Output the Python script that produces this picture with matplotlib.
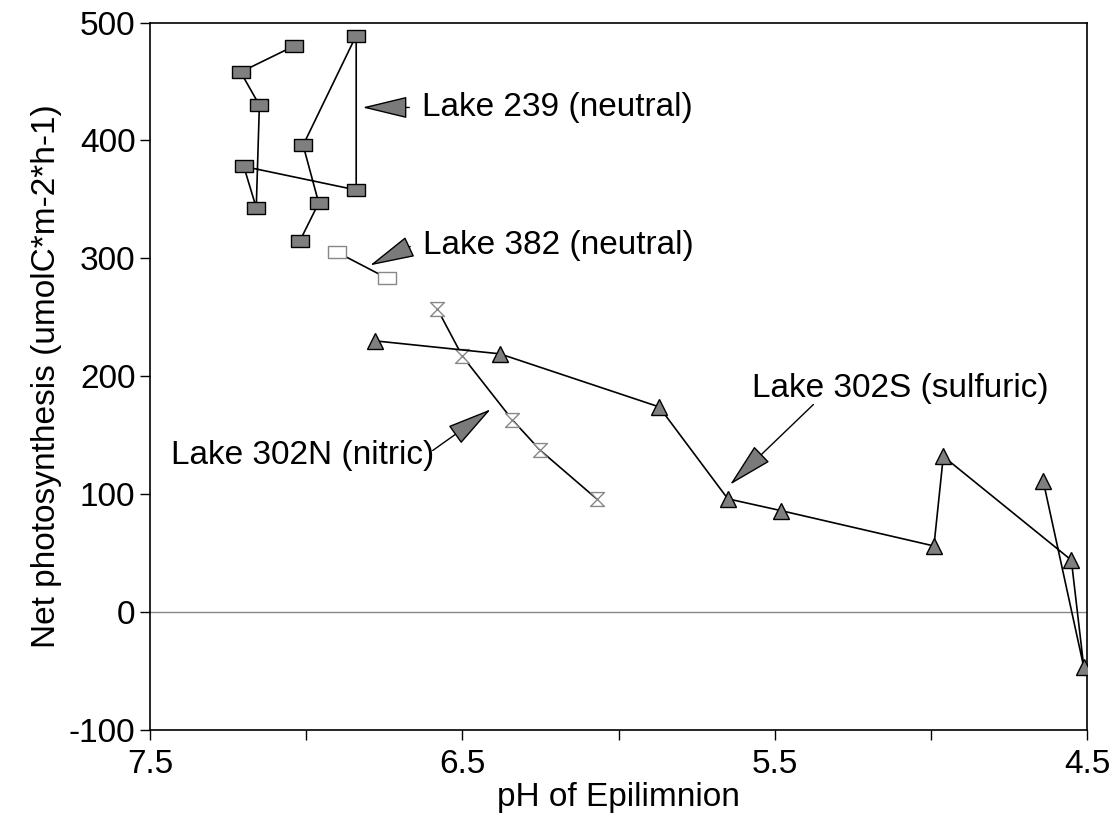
import matplotlib
matplotlib.use("Agg")
import matplotlib.pyplot as plt
from matplotlib.path import Path

plt.rcParams['font.family'] = ['Liberation Sans', 'DejaVu Sans']
plt.rcParams['axes.unicode_minus'] = False

# Lake 239 (neutral)
ph_239 = [7.04, 7.21, 7.15, 7.16, 7.20, 6.84, 6.84, 7.01, 6.96, 7.02]
np_239 = [480, 458, 430, 343, 378, 358, 489, 396, 347, 315]

# Lake 382 (neutral)
ph_382 = [6.90, 6.74]
np_382 = [305, 283]

# Lake 302N (nitric)
ph_302n = [6.58, 6.50, 6.34, 6.25, 6.07]
np_302n = [257, 217, 163, 137, 96]

# Lake 302S (sulfuric)
ph_302s = [6.78, 6.38, 5.87, 5.65, 5.48, 4.99, 4.96, 4.55, 4.51, 4.64]
np_302s = [230, 219, 174, 96, 86, 56, 132, 44, -47, 111]

xticks = [7.5, 6.5, 5.5, 4.5]
yticks = [-100, 0, 100, 200, 300, 400, 500]

# custom markers
rect = Path([(-1, -0.7), (1, -0.7), (1, 0.7), (-1, 0.7), (-1, -0.7)],
            [Path.MOVETO, Path.LINETO, Path.LINETO, Path.LINETO, Path.CLOSEPOLY])
hourglass = Path([(-1, 1), (1, 1), (-1, -1), (1, -1), (-1, 1)],
                 [Path.MOVETO, Path.LINETO, Path.LINETO, Path.LINETO, Path.CLOSEPOLY])

fs = 24

fig = plt.figure(figsize=(11.2, 8.21), dpi=100)
ax = fig.add_axes([0.134, 0.111, 0.8365, 0.8615])

ax.axhline(0, color='#888888', lw=1.0, zorder=1)

ax.plot(ph_239, np_239, '-', color='black', lw=1.2, marker=rect, ms=13,
        mfc='#7f7f7f', mec='black', mew=1.0, zorder=3)
ax.plot(ph_382, np_382, '-', color='black', lw=1.2, marker=rect, ms=13,
        mfc='white', mec='#888888', mew=1.0, zorder=3)
ax.plot(ph_302n, np_302n, '-', color='black', lw=1.2, marker=hourglass, ms=10,
        mfc='white', mec='#888888', mew=1.0, zorder=3)
ax.plot(ph_302s, np_302s, '-', color='black', lw=1.2, marker='^', ms=11,
        mfc='#7f7f7f', mec='black', mew=1.0, zorder=3)

arrow = dict(arrowstyle='-|>,head_length=2.9,head_width=0.7', mutation_scale=10,
             fc='#7a7a7a', ec='black', lw=1.0, shrinkA=0, shrinkB=0)

ax.annotate('', xy=(6.82, 428), xytext=(6.67, 428), arrowprops=arrow)
ax.text(6.63, 428, 'Lake 239 (neutral)', fontsize=fs, ha='left', va='center')

ax.annotate('', xy=(6.796, 294), xytext=(6.667, 310), arrowprops=arrow)
ax.text(6.625, 311, 'Lake 382 (neutral)', fontsize=fs, ha='left', va='center')

ax.annotate('', xy=(6.409, 172), xytext=(6.595, 137), arrowprops=arrow)
ax.text(6.59, 133, 'Lake 302N (nitric)', fontsize=fs, ha='right', va='center')

ax.annotate('', xy=(5.643, 108), xytext=(5.376, 176), arrowprops=arrow)
ax.text(5.573, 190, 'Lake 302S (sulfuric)', fontsize=fs, ha='left', va='center')

ax.set_xlim(7.5, 4.5)
ax.set_ylim(-100, 500)
ax.set_xticks(xticks)
ax.set_xticks([7.0, 6.0, 5.0], minor=True)
ax.set_yticks(yticks)
ax.tick_params(axis='both', which='both', direction='out', length=7, width=1.0,
               labelsize=fs, colors='black')
ax.tick_params(axis='x', pad=7)

for s in ax.spines.values():
    s.set_linewidth(1.2)
    s.set_color('black')

ax.set_xlabel('pH of Epilimnion', fontsize=fs, labelpad=1)
ax.set_ylabel('Net photosynthesis (umolC*m-2*h-1)', fontsize=fs, labelpad=5)

fig.savefig('out.png', dpi=100)
